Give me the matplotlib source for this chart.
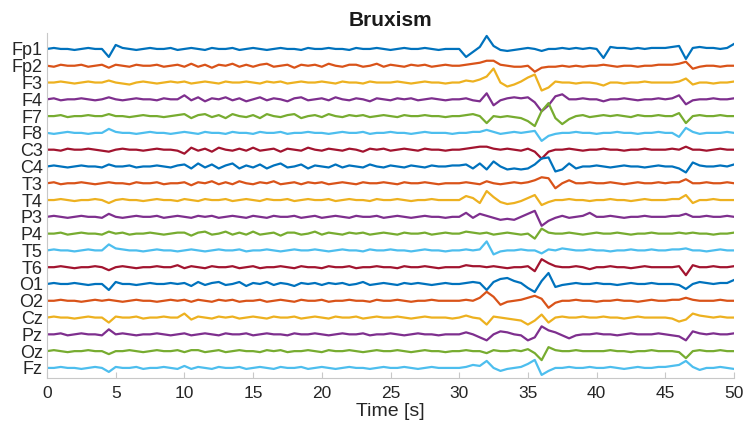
import numpy as np
import matplotlib.pyplot as plt

plt.rcParams['font.family'] = ['Liberation Sans', 'DejaVu Sans']

channels = ['Fp1', 'Fp2', 'F3', 'F4', 'F7', 'F8', 'C3', 'C4', 'T3', 'T4',
            'P3', 'P4', 'T5', 'T6', 'O1', 'O2', 'Cz', 'Pz', 'Oz', 'Fz']

# samples every 0.5 s, offsets in pixels (up = positive)
t = np.linspace(0, 50, 101)

fp1 = [0, 1, 0, 0, -1, 0, 1, 0, 0, -8,
       4, 1, 0, -1, 0, 1, 0, 0, 1, -1,
       0, 1, 0, -1, 1, 0, 0, 1, -1, 0,
       1, 0, -1, 0, 1, 0, 0, -1, 1, 0,
       0, 1, 0, 0, -1, 1, 0, 0, 1, 0,
       -1, 0, 1, 0, 0, 1, 0, -1, 0, 0,
       0, -8, -3, 2, 13, 3, -1, -2, -1, 0,
       1, 0, -2, 0, 0, 1, 0, 1, 0, 1,
       0, -9, 2, 1, 1, 0, 1, 0, 1, 1,
       1, 2, 3, -10, 1, 2, 1, 1, 0, 1,
       5]
fp2 = [0, -1, 1, 0, 0, 1, -1, 0, 1, -2,
       1, 0, -1, 1, 0, 0, 1, -1, 0, 1,
       -1, 2, -1, 1, -2, 1, 0, 2, -1, 1,
       -1, 1, 2, -1, 0, 1, -2, 1, 0, 1,
       -1, 2, 0, -1, 1, 1, -1, 0, 2, -1,
       1, 0, -1, 1, 0, 1, -1, 0, 1, 0,
       0, 1, 2, 3, 5, 5, 1, 0, -1, -1,
       0, -6, -2, -1, -1, 0, -1, 0, -1, 0,
       0, 1, 0, -1, 0, 0, -1, 0, 0, 1,
       1, 1, 2, 4, -3, -1, 0, 0, -1, 0,
       0]
f3 = [0, 0, 1, 0, -1, 0, 1, 0, 0, 2,
      0, -1, -2, 0, 1, 0, -1, 0, 1, 0,
      1, -1, 0, 1, 0, -1, 1, 0, 0, 1,
      0, -1, 1, 0, 1, -1, 0, 1, 0, 0,
      1, 0, -1, 1, 0, 0, -1, 1, 0, 0,
      0, 1, 0, -1, 0, 1, 0, 0, -1, 0,
      0, 2, 1, 3, 6, 14, 0, -4, -2, 1,
      5, 8, -8, -5, 1, 0, 0, -1, 0, 0,
      -1, -3, 0, 0, -1, 0, 0, 1, 0, 0,
      0, 0, 1, 4, -2, 0, 0, -1, 0, 0,
      1]
f4 = [0, 1, -1, 0, 0, 1, 0, -1, 0, 2,
      0, -1, 0, 1, 0, 0, -1, 1, 0, 0,
      4, -1, 2, -2, 1, 0, 2, -1, 1, -2,
      0, 2, -1, 1, 0, -2, 1, 2, -1, 0,
      1, -1, 2, 0, -1, 1, 0, -2, 1, 0,
      -1, 1, 0, 1, -1, 0, 1, 0, -1, 0,
      0, 1, -1, -2, 6, -6, -1, 1, 2, 1,
      2, -3, -12, -6, 3, 5, 0, 0, 1, 0,
      0, -2, 0, 0, 1, 0, -1, 0, 0, 1,
      0, 1, 4, -5, -1, 0, 0, 1, 0, 0,
      1]
f7 = [0, 0, 1, -1, 0, 0, 1, 0, 0, 2,
      0, 0, -1, 0, 1, 0, 0, -1, 0, 1,
      2, -2, 1, 2, -1, 1, -2, 2, 0, -1,
      1, -2, 2, 0, -1, 1, 2, -2, 0, 1,
      -1, 2, 0, -1, 1, 0, 1, -1, 0, 1,
      0, -1, 1, 0, 0, 1, 0, 0, -1, 0,
      0, 1, 2, 0, -7, 0, -1, 0, -1, -2,
      -5, -10, 5, 13, -2, -8, -3, 0, 1, -1,
      0, 1, 0, 1, 0, -1, 1, 0, 0, 1,
      0, 0, 3, -7, 0, 1, 0, 0, 1, 0,
      0]
f8 = [0, -1, 0, 1, 0, 0, -1, 0, 0, 4,
      1, 0, 0, -1, 0, 1, 0, 0, -1, 0,
      1, 0, -1, 1, 0, 0, -1, 1, 0, 0,
      -1, 1, 0, 0, 1, -1, 0, 0, 1, 0,
      0, -1, 0, 1, 0, 0, 1, -1, 0, 0,
      1, 0, 0, -1, 0, 1, 0, 0, 0, -1,
      0, 0, 1, 1, 3, 1, -1, 0, 1, 0,
      1, 2, -8, -3, -1, 0, 0, 1, 0, 0,
      -1, 0, 0, 1, 0, 0, -1, 0, 0, 1,
      0, 0, -4, 5, 1, -1, 0, 0, 0, 1,
      0]
c3 = [0, 0, -1, 1, 0, 0, 1, 0, -1, -2,
      0, 1, 0, 0, -1, 0, 1, 0, 0, -1,
      -4, 2, -1, 1, -2, 2, 0, -1, 1, -1,
      2, -1, 0, 1, -2, 1, 0, -1, 2, 0,
      -1, 1, 0, -1, 1, 0, -2, 1, 0, 1,
      -1, 0, 1, 0, -1, 1, 0, 0, -1, 0,
      0, 1, 2, 3, 3, 1, 0, 1, 0, -1,
      1, -2, -9, -2, 0, 0, 1, 0, -1, 0,
      0, 1, 0, 0, -1, 0, 0, 1, 0, 0,
      0, 1, 0, 3, 0, 0, -1, 0, 1, 0,
      0]
c4 = [0, 1, 0, -1, 0, 1, 0, 0, -1, 2,
      0, 0, 1, -1, 0, 0, 1, 0, -1, 1,
      2, -2, 3, -1, 2, -2, 1, 3, -2, 1,
      -1, 2, -2, 1, 3, -1, 0, 2, -2, 1,
      0, -1, 2, -1, 1, 0, -1, 2, 0, -1,
      1, 0, -1, 1, 0, -1, 1, 0, 0, 1,
      1, 2, -2, 3, -3, 5, 0, -3, -2, -3,
      -2, 2, 8, 9, -5, -3, 3, -2, 0, 0,
      1, 0, -1, 0, 1, 0, 0, -1, 0, 1,
      0, 0, -2, -6, 4, 1, 0, 0, 1, 0,
      2]
t3 = [0, 1, -1, 0, 0, 1, 0, -1, 0, 1,
      0, 0, -1, 1, 0, 0, 1, -1, 0, 0,
      1, -2, 1, 0, 2, -1, 1, -1, 2, 0,
      -1, 1, 0, 2, -1, 0, 1, -1, 1, 0,
      1, -1, 0, 1, 0, -1, 1, 0, 0, 1,
      0, -1, 1, 0, 0, 1, 0, -1, 0, 0,
      0, 1, 0, -1, 2, 0, -1, 0, 1, 0,
      1, 3, 6, 5, -5, 0, 3, 0, 0, 1,
      0, 0, 1, 0, -1, 0, 1, 0, 0, 1,
      0, 1, 1, 4, 0, 0, 1, 0, 0, 1,
      0]
t4 = [0, 0, 1, 0, -1, 0, 0, 1, 0, -3,
      0, 1, 0, 0, -1, 0, 1, 0, 0, -1,
      1, 0, -1, 1, 0, 0, 1, -1, 0, 1,
      0, -1, 1, 0, 0, 1, -1, 0, 1, 0,
      0, 1, -1, 0, 1, 0, 0, -1, 1, 0,
      0, 1, 0, -1, 0, 0, 1, 0, 0, 0,
      0, 4, 2, -3, 9, 3, -2, -4, -3, -1,
      2, 5, -5, -2, 0, 0, 1, 0, 0, -1,
      0, 0, 1, 0, 0, -1, 0, 1, 0, 0,
      0, 1, 1, 5, -3, 0, 0, 1, 0, 0,
      0]
p3 = [0, 1, 0, -1, 0, 1, 0, 0, -1, 3,
      0, -1, 0, 1, 0, 0, 1, -1, 0, 1,
      0, -1, 1, 0, 1, -1, 0, 1, 0, -1,
      1, 0, -1, 1, 0, 0, 1, -1, 0, 1,
      -1, 0, 1, 0, -1, 1, 0, 0, 1, -1,
      0, 1, 0, -1, 0, 1, 0, 0, -1, 0,
      0, 4, -1, 3, 1, -1, -3, -2, -3, 0,
      3, 6, -9, -4, -1, 1, -1, 0, 1, 4,
      0, 0, 1, 0, -1, 0, 0, 1, 0, 0,
      0, 1, 1, 3, 0, 0, 1, 0, 0, 1,
      0]
p4 = [0, 0, 1, -1, 0, 1, 0, 0, -1, 2,
      0, 1, -1, 0, 0, 1, 0, -1, 0, 1,
      1, -2, 1, 2, -1, 0, 2, -1, 1, -1,
      2, -1, 0, 1, -2, 1, 1, -1, 0, 2,
      -1, 1, 0, -1, 1, 0, 1, -1, 0, 1,
      0, -1, 1, 0, 0, 1, -1, 0, 1, 0,
      0, 2, 1, 0, 1, -1, 0, 1, 0, -1,
      0, -5, 5, 1, 0, 0, 1, 0, -1, 0,
      1, 0, 0, 1, 0, -1, 0, 0, 1, 0,
      0, 0, 1, 0, 1, 0, 0, -1, 0, 0,
      1]
t5 = [0, 1, 0, 0, -1, 0, 1, 0, 0, 6,
      2, 1, 0, 0, -1, 0, 1, 0, 0, -1,
      0, 1, 0, -1, 0, 1, 0, 0, 1, -1,
      0, 0, 1, 0, -1, 0, 1, 0, 0, 1,
      0, -1, 0, 1, 0, 0, -1, 1, 0, 0,
      1, 0, 0, -1, 0, 1, 0, 0, -1, 0,
      0, 1, 0, 1, 9, -4, -1, 0, 0, 1,
      0, 0, -3, 1, 0, 2, 1, 0, 0, 1,
      0, 0, -1, 0, 0, 1, 0, 0, 1, 0,
      0, 1, 1, 2, 0, 0, -1, 0, 1, 0,
      0]
t6 = [0, 0, 1, 0, -1, 0, 0, 1, 0, -3,
      0, 1, 0, -1, 0, 0, 1, 0, 0, 2,
      -1, 1, 0, -1, 1, 0, 0, 1, -1, 0,
      1, -1, 0, 0, 1, 0, -1, 1, 0, 0,
      -1, 1, 0, 0, 1, -1, 0, 0, 1, 0,
      0, -1, 1, 0, 0, 1, 0, -1, 0, 0,
      0, 2, 1, 1, 0, 1, 0, -1, 0, 0,
      1, -4, 8, 4, 1, 0, 0, 1, 0, -2,
      0, 0, 1, 0, 0, -1, 0, 1, 0, 0,
      0, 0, 1, -8, 2, 0, 0, 1, 0, 0,
      1]
o1 = [0, 1, 0, 0, 1, 0, -1, 0, 0, -6,
      2, 0, 0, -1, 0, 1, 0, 0, 1, 0,
      1, -2, 2, -1, 1, 2, -1, 0, 2, -2,
      1, 0, 2, -1, 1, 0, -2, 1, 0, 1,
      -1, 1, 0, 1, -1, 0, 2, -1, 0, 1,
      0, -1, 1, 0, 1, 0, -1, 0, 1, 0,
      0, 1, 2, 1, -6, 2, 5, 6, 3, 1,
      -4, -8, 3, 11, -3, -1, 0, 1, 0, 0,
      1, 0, 0, -1, 0, 1, 0, 0, 1, 0,
      0, 0, -1, -5, 0, 2, 1, 0, 1, 1,
      4]
o2 = [0, 0, 1, 0, 0, -1, 0, 1, 0, 1,
      0, -1, 0, 1, 0, 0, -1, 0, 1, 0,
      1, -1, 1, 0, -1, 1, 0, 1, -1, 0,
      0, 1, -1, 0, 1, 0, -1, 1, 0, 0,
      1, -1, 0, 0, 1, 0, 0, -1, 1, 0,
      0, 1, 0, -1, 0, 0, 1, 0, 0, 0,
      0, 1, 0, 3, 9, 4, -4, -1, 0, 1,
      3, 5, 2, -7, -2, 0, 0, 1, 0, 0,
      -1, 0, 0, 1, 0, 0, -1, 0, 1, 0,
      0, 1, 1, 3, 1, 0, 0, 0, 1, 0,
      0]
cz = [0, 1, 0, 0, -1, 0, 1, 0, 0, -5,
      1, 0, 0, 1, -1, 0, 0, 1, 0, 0,
      4, -2, 1, 0, -1, 1, 0, 1, -1, 0,
      1, 0, -1, 1, 0, 0, 1, -1, 0, 1,
      0, -1, 1, 0, 0, 1, -1, 0, 1, 0,
      0, 1, 0, -1, 0, 1, 0, 0, 0, -1,
      0, 2, 0, -1, -7, 1, 0, -1, -2, -3,
      -7, -3, 3, -5, 0, 1, 0, 0, 1, 0,
      0, 1, 0, 0, -1, 0, 1, 0, 0, 0,
      0, -1, -4, -2, 4, 2, 1, 0, 1, 0,
      0]
pz = [0, 0, 1, -1, 0, 1, 0, 0, -1, 5,
      0, 1, 0, -1, 0, 0, 1, 0, -1, 0,
      1, -1, 0, 1, 0, -1, 1, 0, 0, 1,
      -1, 0, 1, 0, 0, -1, 1, 0, 0, 1,
      0, -1, 0, 1, 0, 0, 1, -1, 0, 0,
      1, 0, -1, 0, 1, 0, 0, -1, 0, 0,
      0, 2, 0, -3, -6, 0, 3, 2, 0, -1,
      -6, -3, 8, 4, 2, -1, -4, -1, 0, 0,
      1, 0, 0, -1, 0, 1, 0, 0, 0, 1,
      0, -1, -2, -6, 3, 1, 0, 1, 0, 0,
      1]
oz = [0, 1, 0, -1, 0, 0, 1, 0, 0, -3,
      0, 0, 1, 0, -1, 0, 1, 0, 0, 1,
      -1, 1, 1, -1, 0, 1, -1, 0, 1, 0,
      0, -1, 1, 0, 1, -1, 0, 0, 1, 0,
      -1, 1, 0, 0, 1, 0, -1, 0, 1, 0,
      0, 1, 0, -1, 0, 1, 0, 0, -1, 0,
      0, 1, 0, 0, -2, 1, 0, 0, 1, 0,
      2, -2, -9, 4, 1, 0, 0, 1, 0, 0,
      0, 0, 1, 0, 0, -1, 0, 0, 1, 0,
      0, 0, -1, -7, 0, 1, 0, 0, 1, 0,
      0]
fz = [0, 0, 1, 0, 0, -1, 0, 1, 0, -4,
      1, 0, 0, 1, -1, 0, 0, 1, 0, -1,
      2, -1, 1, 0, -1, 1, 0, 0, 1, -1,
      0, 1, 0, -1, 1, 0, 0, 1, -1, 0,
      1, 0, -1, 0, 1, 0, 0, -1, 0, 1,
      0, 0, 1, 0, -1, 0, 1, 0, 0, 0,
      0, 1, 3, 2, 7, 0, -3, -1, 0, 1,
      4, 8, -7, -3, 0, 0, 1, 0, 0, 1,
      0, 0, 1, 0, -1, 0, 1, 0, 0, 1,
      1, 2, 3, 7, 1, -2, 0, 0, 1, 0,
      -1]

traces = [fp1, fp2, f3, f4, f7, f8, c3, c4, t3, t4,
          p3, p4, t5, t6, o1, o2, cz, pz, oz, fz]

# MATLAB default line colours
colors = ['#0072BD', '#D95319', '#EDB120', '#7E2F8E',
          '#77AC30', '#4DBEEE', '#A2142F']

px_per_row = 16.8
n = len(channels)

fig = plt.figure(figsize=(7.44, 4.33), dpi=100)
ax = fig.add_axes([47 / 744, 1 - 378 / 433, 687 / 744, 345 / 433])

for i, (name, tr) in enumerate(zip(channels, traces)):
    assert len(tr) == len(t), name
    y = (n - 1 - i) + np.array(tr) / px_per_row
    ax.plot(t, y, color=colors[i % 7], lw=1.6, solid_joinstyle='round')

ax.set_xlim(0, 50)
ax.set_ylim(-0.6, n - 1 + 0.95)
ax.set_xticks(np.arange(0, 51, 5))
ax.set_yticks(np.arange(n - 1, -1, -1))
ax.set_yticklabels(channels)

for s in ['top', 'right']:
    ax.spines[s].set_visible(False)
for s in ['left', 'bottom']:
    ax.spines[s].set_color('#c8c8c8')
    ax.spines[s].set_linewidth(0.8)

ax.tick_params(axis='x', direction='in', length=4, color='#c8c8c8',
               labelsize=12.5, labelcolor='#262626', pad=6)
ax.tick_params(axis='y', length=0, labelsize=13, labelcolor='#262626', pad=3)

ax.set_xlabel('Time [s]', fontsize=14, color='#262626', labelpad=1)
ax.set_title('Bruxism', fontsize=15, fontweight='bold', color='#1a1a1a', pad=5)

fig.savefig('out.png', dpi=100)
